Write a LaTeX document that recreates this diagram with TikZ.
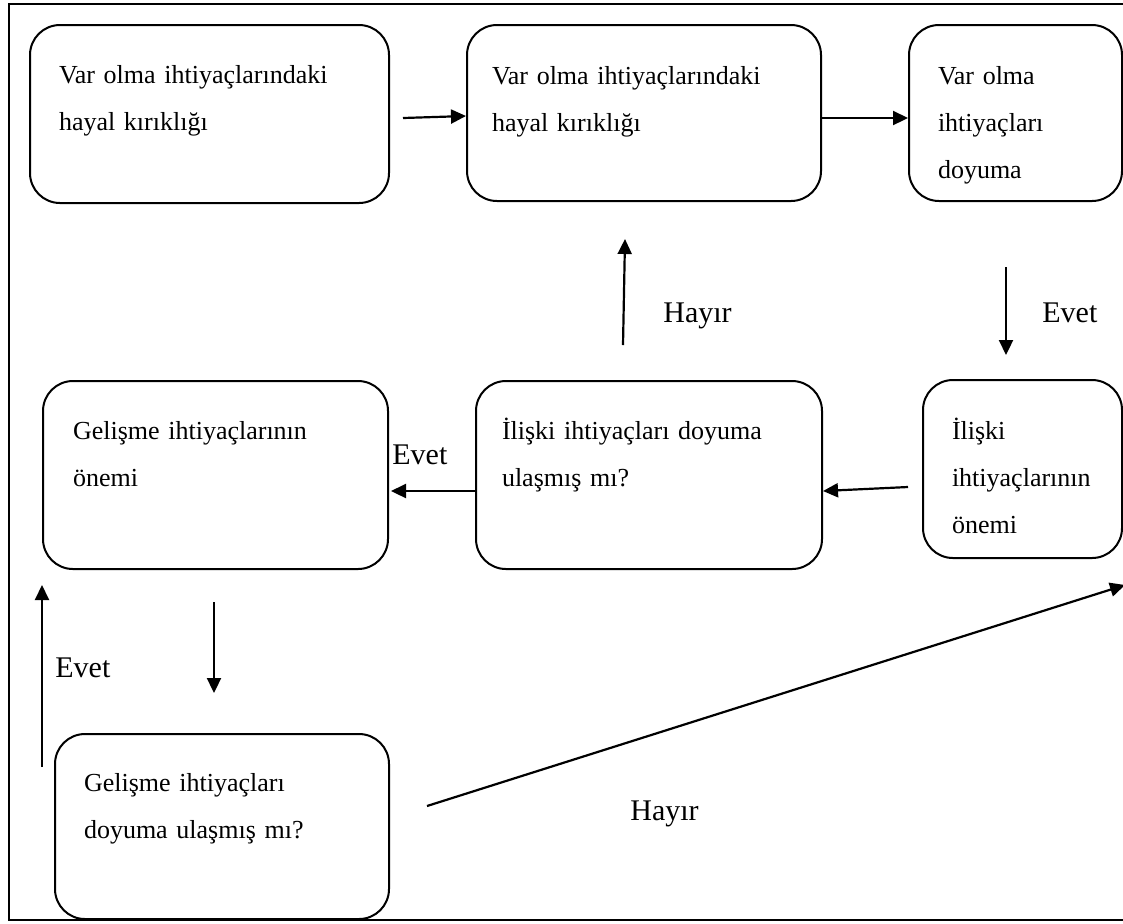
\documentclass[tikz,border=0pt]{standalone}
\usepackage{fontspec}
\setmainfont{Liberation Serif}
\usetikzlibrary{arrows.meta,calc}

\tikzset{
    kutu/.style={draw, line width=1pt, rounded corners=15pt, anchor=north west,
        align=left, inner ysep=0pt, inner xsep=14.5pt,
        font=\fontsize{13}{23.5}\selectfont},
    ok/.style={line width=1.1pt, -{Triangle[length=7.5pt,width=7pt]}},
    etiket/.style={anchor=base west, inner sep=0pt, font=\fontsize{15}{18}\selectfont}
}

\begin{document}
\begin{tikzpicture}[x=0.5pt,y=-0.5pt]
    % Define dimensions
    \def\genislik{1123}
    \def\yukseklik{923}
    \useasboundingbox (0,0) rectangle (\genislik,\yukseklik);
    % Outer frame (right side cut off)
    \draw[line width=1.25pt] (\genislik,4) -- (9,4) -- (9,920) -- (\genislik,920);

    % Top row
    \node[kutu, text width=150.5pt, text height=29pt, text depth=60pt] (A) at (29,24)
        {Var olma ihtiyaçlarındaki\\hayal kırıklığı};
    \node[kutu, inner xsep=12.5pt, text width=152pt, text height=29.5pt, text depth=58.5pt] (B) at (466,24)
        {Var olma ihtiyaçlarındaki\\hayal kırıklığı};
    \node[kutu, text width=77.5pt, text height=29.5pt, text depth=58.5pt] (C) at (908,24)
        {Var olma\\ihtiyaçları\\doyuma};

    % Middle row
    \node[kutu, inner xsep=15pt, text width=142.5pt, text height=29pt, text depth=65pt] (D) at (42,380)
        {Gelişme ihtiyaçlarının\\önemi};
    \node[kutu, inner xsep=13pt, text width=147pt, text height=29pt, text depth=65pt] (E) at (475,380)
        {İlişki ihtiyaçları doyuma\\ulaşmış mı?};
    \node[kutu, text width=70.5pt, text height=29.5pt, text depth=59.5pt] (F) at (922,379)
        {İlişki\\ihtiyaçlarının\\önemi};

    % Bottom row
    \node[kutu, text width=138pt, text height=28.5pt, text depth=64pt] (G) at (54,733)
        {Gelişme ihtiyaçları\\doyuma ulaşmış mı?};

    % Arrows
    \draw[ok] ($(A.east)+(13,4)$) -- ($(B.west)+(0,3)$);
    \draw[ok] ($(B.east)+(0,5)$) -- ($(C.west)+(0,5)$);
    \draw[ok] ($(C.south)+(-9.5,65)$) -- ($(F.north)+(-16.5,-24)$);
    \draw[ok] ($(E.north)+(-26,-35)$) -- ($(B.south)+(-19,37)$);
    \draw[ok] ($(F.west)+(-14,18)$) -- ($(E.east)+(0,16)$);
    \draw[ok] ($(E.west)+(0,16)$) -- ($(D.east)+(2,16)$);
    \draw[ok] ($(D.south)+(-1.5,32)$) -- ($(G.north)+(-8,-40)$);
    \draw[ok] ($(G.north west)+(-12,34)$) -- ($(D.south west)+(0,15)$);
    \draw[ok] ($(G.east)+(37,-20.5)$) -- ($(F.south east)+(2,26)$);

    % Labels
    \node[etiket] (hayir1) at (663,322) {Hayır};
    \node[etiket] (evet1) at (1042,322) {Evet};
    \node[etiket] (evet2) at (392,464) {Evet};
    \node[etiket] (evet3) at (55,677) {Evet};
    \node[etiket] (hayir2) at (630,820) {Hayır};
\end{tikzpicture}
\end{document}
